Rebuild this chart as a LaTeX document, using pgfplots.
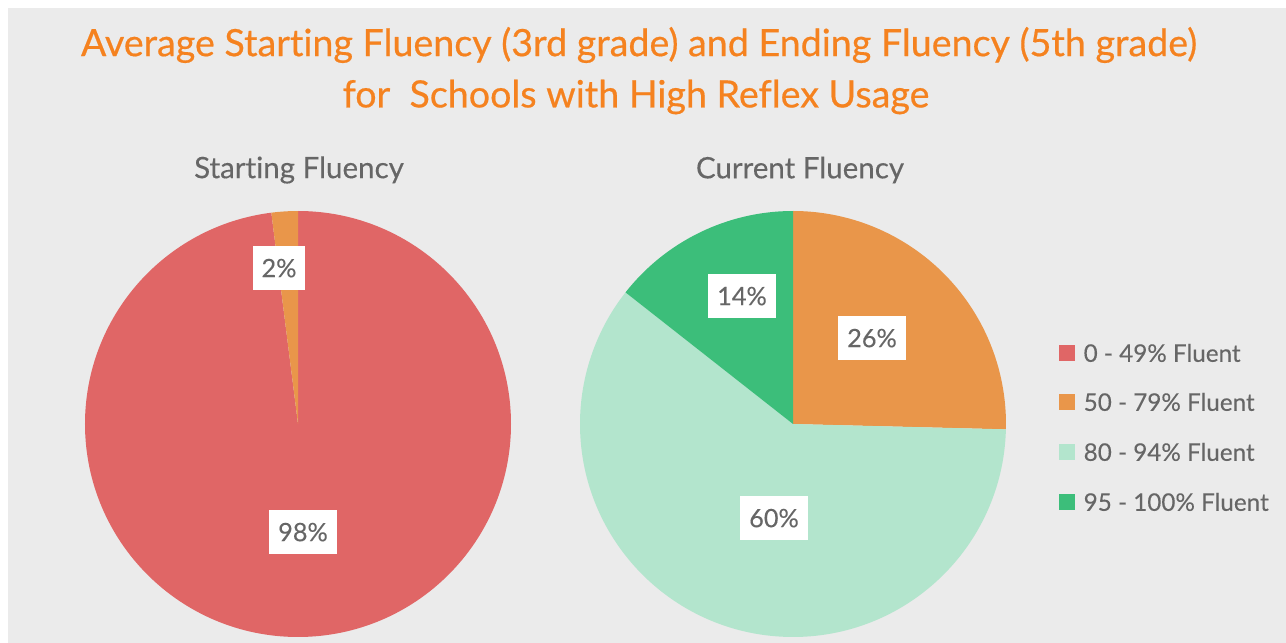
\documentclass[border=0pt]{standalone}
\usepackage{pgfplots}
\usepackage{pgfplotstable}
\pgfplotsset{compat=1.18}
\usepackage{fontspec}
\setmainfont{Lato}[Ligatures=NoCommon]
\newfontfamily\titlefont{Lato}[Ligatures=NoCommon, FakeBold=0.5]
\newfontfamily\medfont{Lato}[Ligatures=NoCommon, FakeBold=0.25]
\definecolor{bg}{HTML}{EBEBEB}
\definecolor{cred}{HTML}{E06666}
\definecolor{corange}{HTML}{E9964A}
\definecolor{clight}{HTML}{B3E5CD}
\definecolor{cgreen}{HTML}{3CBE7A}
\definecolor{ctitle}{HTML}{F5821F}
\definecolor{ctext}{HTML}{666666}

% slices, clockwise from 12 o'clock (shares as drawn; labels are rounded)
\pgfplotstableread{
pct col
98  cred
2   corange
}\startdata
\pgfplotstableread{
pct  col
25.4 corange
60.2 clight
14.4 cgreen
}\currentdata

\newcommand\drawpie[3]{%
  \pgfplotstablegetrowsof{#1}%
  \pgfmathtruncatemacro\nrows{\pgfplotsretval-1}%
  \def\curang{90}%
  \pgfplotsforeachungrouped \i in {0,...,\nrows}{%
    \pgfplotstablegetelem{\i}{pct}\of{#1}\let\pct\pgfplotsretval
    \pgfplotstablegetelem{\i}{col}\of{#1}\let\col\pgfplotsretval
    \pgfmathsetmacro\endang{\curang-3.6*\pct}%
    \edef\temp{\noexpand\fill[\col] (axis cs:#2,#3) -- ([shift={(\curang:2.13cm)}]axis cs:#2,#3) arc[start angle=\curang, end angle=\endang, radius=2.13cm] -- cycle;}%
    \temp
    \global\let\curang\endang
  }%
}
\newcommand\legentry[3]{%
  \fill[#1] (axis cs:1059,#3-8) rectangle (axis cs:1075,#3+8);
  \node[text=ctext, anchor=west, inner sep=0pt, font=\medfont\fontsize{6.9}{8}\selectfont] at (axis cs:1083,#3) {#2};
}

\begin{document}
\begin{tikzpicture}
\begin{axis}[hide axis, scale only axis, width=12.86cm, height=6.43cm,
  xmin=0, xmax=1286, ymin=0, ymax=643, clip=false]
\fill[white] (axis cs:0,0) rectangle (axis cs:1286,643);
\fill[bg] (axis cs:8,0) rectangle (axis cs:1286,635);
\drawpie{\startdata}{298}{219}
\drawpie{\currentdata}{793}{219}
\tikzset{lab/.style={fill=white, text=ctext, font=\medfont\fontsize{7.2}{8}\selectfont, minimum height=0.44cm, inner xsep=0.09cm, text depth=0pt}}
\node[lab] at (axis cs:279,375) {2\%};
\node[lab] at (axis cs:303,111) {98\%};
\node[lab] at (axis cs:742,347) {14\%};
\node[lab] at (axis cs:872,305) {26\%};
\node[lab] at (axis cs:774,125) {60\%};
\node[text=ctitle, font=\titlefont\fontsize{10.7}{13}\selectfont] at (axis cs:639,598) {Average Starting Fluency (3rd grade) and Ending Fluency (5th grade)};
\node[text=ctitle, font=\titlefont\fontsize{10.7}{13}\selectfont] at (axis cs:636,546) {for\ \ Schools with High Reflex Usage};
\node[text=ctext, font=\medfont\fontsize{8.4}{9}\selectfont] at (axis cs:299,473) {Starting Fluency};
\node[text=ctext, font=\medfont\fontsize{8.4}{9}\selectfont] at (axis cs:800,473) {Current Fluency};
\legentry{cred}{0 - 49\% Fluent}{290}
\legentry{corange}{50 - 79\% Fluent}{241}
\legentry{clight}{80 - 94\% Fluent}{191}
\legentry{cgreen}{95 - 100\% Fluent}{141}
\end{axis}
\end{tikzpicture}
\end{document}
